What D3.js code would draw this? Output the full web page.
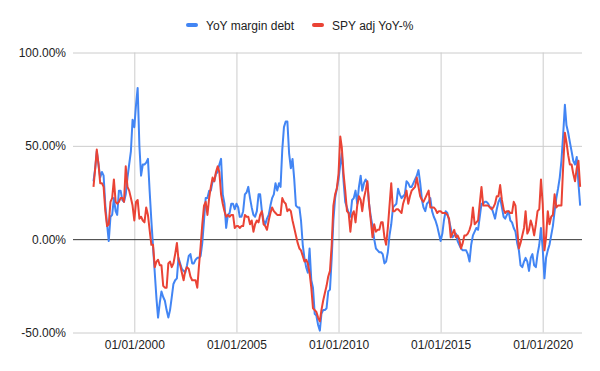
<!DOCTYPE html>
<html>
<head>
<meta charset="utf-8">
<script src="https://cdn.jsdelivr.net/npm/d3@7"></script>
<style>
  body { margin: 0; background: #fff; }
  svg { font-family: Arial, "Liberation Sans", sans-serif; }
</style>
</head>
<body>
<script>
// monthly observations, Jan 1998 .. Nov 2021
const months = d3.timeMonth.range(new Date(1998, 0, 1), new Date(2021, 11, 1));

const marginDebt = [
  31, 38, 47, 40, 33, 36, 34, 18, 8, -1, 12, 13,
  22, 15, 13, 26, 26, 21, 20, 24, 33, 40, 47, 64,
  60, 72, 81, 50, 34, 40, 40, 41, 43, 26, 10, -4,
  -18, -32, -42, -34, -28, -31, -33, -38, -42, -38, -31, -24,
  -22, -21, -10, -13, -16, -17, -18, -14, -9, -8, -13, -13,
  -11, -10, -10, -9, -2, 10, 22, 22, 26, 26, 31, 31,
  35, 36, 40, 43, 24, 19, 6, 13, 14, 19, 19, 16,
  19, 17, 12, 12, 15, 24, 25, 28, 22, 17, 13, 12,
  15, 24, 24, 15, 10, 8, 11, 13, 18, 22, 24, 30,
  26, 30, 28, 48, 60, 63, 63, 46, 38, 43, 32, 18,
  17, 17, 10, -3, -10, -15, -18, -5, -22, -26, -40, -41,
  -46, -49, -40, -38, -38, -37, -28, -27, -10, 10, 22, 27,
  32, 40, 46, 31, 20, 17, 14, 12, 21, 22, 26, 19,
  28, 34, 26, 30, 32, 30, 19, 12, 7, 0, -5, -6,
  -7, -7, -8, -13, -12, -7, 2, 8, 17, 18, 19, 27,
  24, 22, 23, 24, 31, 30, 28, 28, 30, 32, 34, 37,
  30, 21, 17, 15, 19, 20, 22, 15, 12, 10, 7, 3,
  -1, 3, 10, 15, 14, 10, 6, 1, 2, 3, -1, -3,
  -5, -6, -6, -6, -8, -12, -3, 2, 4, 6, 5, 12,
  19, 19, 20, 20, 19, 17, 17, 14, 11, 16, 20, 22,
  17, 12, 11, 13, 15, 10, 9, 6, 4, -2, -6, -14,
  -15, -12, -10, -12, -17, -10, -8, -14, -15, -8, -3, 6,
  -5, -21, -10, -6, -3, 2, 7, 15, 22, 27, 33, 42,
  56, 72, 61, 57, 52, 47, 42, 40, 44, 30, 18
];

const spyYoY = [
  28, 38, 48, 40, 30, 30, 28, 15, 7, 8, 20, 22,
  32, 20, 19, 20, 22, 22, 20, 39, 28, 26, 22, 18,
  10, 20, 21, 11, 12, 10, 9, 17, 13, 5, -3, -3,
  -15, -12, -11, -14, -14, -25, -26, -26, -13, -12, -15, -13,
  -8, -2, -11, -14, -18, -22, -17, -15, -16, -20, -22, -22,
  -22, -26, -15, -4, 8, 18, 20, 13, 22, 28, 33, 31,
  36, 39, 36, 24, 19, 15, 12, 13, 12, 13, 13, 6,
  7, 7, 6, 7, 7, 13, 12, 12, 8, 10, 4, 8,
  10, 9, 13, 15, 8, 7, 5, 10, 14, 17, 15, 14,
  13, 13, 13, 22, 20, 19, 15, 16, 15, 10, 6, 2,
  -2, -5, -6, -9, -12, -11, -13, -18, -26, -37, -38, -39,
  -42, -44, -38, -33, -29, -25, -20, -17, -3, 18, 24, 27,
  35, 55, 49, 35, 26, 15, 14, 4, 13, 15, 9, 18,
  23, 21, 15, 22, 26, 31, 19, 10, 1, 8, 4, 5,
  5, 9, 9, 1, -3, 6, 18, 30, 15, 15, 16, 16,
  15, 14, 19, 22, 26, 19, 23, 26, 27, 28, 33, 28,
  23, 21, 20, 22, 24, 26, 17, 17, 17, 16, 14, 15,
  15, 14, 14, 14, 13, 11, 1, 3, 5, 1, 2, 0,
  -5, -2, 2, 2, 3, 5, 8, 17, 8, 9, 10, 19,
  28, 18, 18, 18, 18, 17, 16, 17, 19, 23, 23, 29,
  21, 16, 14, 15, 15, 14, 14, 20, 18, 6, -5, -2,
  2, 6, 15, 3, 5, 10, 7, 2, 8, 15, 16, 32,
  19, -6, 1, 15, 8, 12, 13, 24, 17, 18, 18, 18,
  39, 57, 52, 45, 40, 40, 35, 31, 38, 42, 28
];

const seriesNames = ["YoY margin debt", "SPY adj YoY-%"];
const seriesColors = ["#4285F4", "#EA4335"];
const yTicks = [-0.5, 0, 0.5, 1];
const xTicks = [2000, 2005, 2010, 2015, 2020].map(yr => new Date(yr, 0, 1));

const w = 600, h = 371;
const plotLeft = 73, plotRight = 582, plotTop = 52.5, plotBottom = 332.5;

const svg = d3.select("body").append("svg")
  .attr("width", w)
  .attr("height", h);

const x = d3.scaleTime()
  .domain([new Date(2000, 0, 1), new Date(2020, 0, 1)])
  .range([134.3, 542.7]);

const y = d3.scaleLinear()
  .domain([-0.5, 1])
  .range([plotBottom, plotTop]);

// axes + grid
const yAxis = d3.axisLeft(y)
  .tickValues(yTicks)
  .tickSize(-(plotRight - plotLeft))
  .tickPadding(7)
  .tickFormat(d => (d * 100).toFixed(2) + "%");

const xAxis = d3.axisBottom(x)
  .tickValues(xTicks)
  .tickSize(-(plotBottom - plotTop))
  .tickPadding(8)
  .tickFormat(d3.timeFormat("%d/%m/%Y"));

svg.append("g")
  .attr("class", "x-axis")
  .attr("transform", `translate(0,${plotBottom})`)
  .call(xAxis);

svg.append("g")
  .attr("class", "y-axis")
  .attr("transform", `translate(${plotLeft},0)`)
  .call(yAxis);

svg.selectAll(".domain").remove();
svg.selectAll(".tick line").attr("stroke", "#cccccc").attr("stroke-width", 1);
svg.selectAll(".tick text").attr("font-size", 12).attr("fill", "#222");
svg.selectAll(".y-axis .tick").filter(d => d === 0).select("line").attr("stroke", "#333");

// lines
const line = d3.line()
  .x((d, i) => x(months[i]))
  .y(d => y(d / 100));

[marginDebt, spyYoY].forEach((vals, k) => {
  svg.append("path")
    .datum(vals)
    .attr("fill", "none")
    .attr("stroke", seriesColors[k])
    .attr("stroke-width", 2)
    .attr("stroke-linejoin", "round")
    .attr("d", line);
});

// legend
const legendX = [186, 312];
seriesNames.forEach((name, k) => {
  svg.append("rect")
    .attr("x", legendX[k])
    .attr("y", 23)
    .attr("width", 12)
    .attr("height", 4)
    .attr("rx", 2)
    .attr("fill", seriesColors[k]);
  svg.append("text")
    .attr("x", legendX[k] + 20)
    .attr("y", 29.5)
    .attr("font-size", 12)
    .attr("fill", "#222")
    .text(name);
});
</script>
</body>
</html>
